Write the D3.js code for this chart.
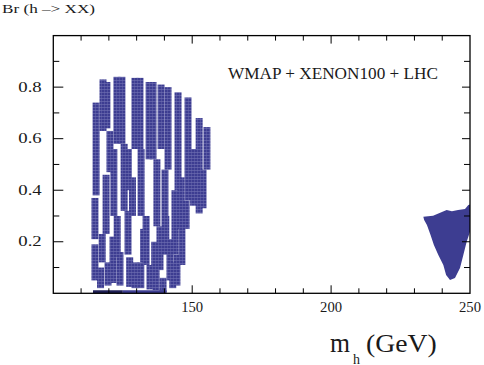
<!DOCTYPE html>
<html>
<head>
<meta charset="utf-8">
<script src="https://cdn.jsdelivr.net/npm/d3@7"></script>
<style>
  body { margin: 0; background: #fff; }
  text { font-family: "Liberation Serif", "Times New Roman", serif; font-weight: normal; fill: #1a1a1a; }
</style>
</head>
<body>
<script>
// axis values
var xTicks = [110, 120, 130, 140, 150, 160, 170, 180, 190, 200, 210, 220, 230, 240];
var xLabels = [150, 200, 250];
var yTicks = [0.1, 0.2, 0.3, 0.4, 0.5, 0.6, 0.7, 0.8, 0.9];
var yLabels = [0.2, 0.4, 0.6, 0.8];

// scan points below 160 GeV, read as vertical strips: [mh, Br top, Br bottom]
var strips = [
  [115.4, 0.74, 0.38], [115.0, 0.37, 0.21], [115.0, 0.19, 0.05],
  [117.9, 0.83, 0.63], [119.3, 0.82, 0.64], [120.4, 0.63, 0.47],
  [119.0, 0.46, 0.23], [117.6, 0.23, 0.12], [119.7, 0.12, 0.03],
  [117.0, 0.10, 0.02], [121.5, 0.22, 0.04], [121.8, 0.56, 0.30],
  [122.9, 0.84, 0.58], [124.7, 0.84, 0.58], [125.5, 0.58, 0.32],
  [123.0, 0.30, 0.14], [126.9, 0.32, 0.15], [124.0, 0.16, 0.03],
  [127.5, 0.14, 0.025], [127.0, 0.56, 0.40], [128.5, 0.45, 0.30],
  [129.4, 0.836, 0.56], [131.2, 0.836, 0.56], [131.6, 0.56, 0.30],
  [133.4, 0.30, 0.11], [129.4, 0.12, 0.02], [131.5, 0.12, 0.02],
  [132.5, 0.25, 0.12],
  [134.5, 0.82, 0.52], [135.9, 0.82, 0.52], [137.3, 0.52, 0.26],
  [138.4, 0.26, 0.09], [134.8, 0.11, 0.015], [136.5, 0.20, 0.04],
  [137.0, 0.09, 0.012],
  [138.8, 0.81, 0.56], [141.3, 0.80, 0.48], [140.2, 0.48, 0.21],
  [142.0, 0.21, 0.05], [139.5, 0.06, 0.005], [140.5, 0.30, 0.15],
  [144.9, 0.78, 0.40], [143.8, 0.40, 0.15], [144.5, 0.15, 0.03],
  [143.0, 0.12, 0.02], [146.0, 0.45, 0.25],
  [148.5, 0.76, 0.36], [147.8, 0.36, 0.25], [146.3, 0.26, 0.11],
  [150.5, 0.56, 0.34],
  [152.5, 0.68, 0.31], [155.3, 0.645, 0.48], [153.9, 0.48, 0.33]
];

// points lying on Br ~ 0: [mh start, mh end]
var floorDark = [114.3, 125.0];
var floorBlue = [125.0, 140.8];

// outline of the dense region near 240-250 GeV: [mh, Br]
var blob = [
  [233.2, 0.297], [236.7, 0.301], [241.6, 0.323], [243.5, 0.318],
  [245.7, 0.323], [248.2, 0.327], [249.4, 0.343], [250.0, 0.345],
  [250.0, 0.239], [248.8, 0.200], [247.6, 0.149], [246.4, 0.098],
  [244.6, 0.059], [242.8, 0.052], [241.4, 0.071], [240.4, 0.110],
  [238.6, 0.149], [237.0, 0.187], [235.8, 0.226], [234.5, 0.265],
  [233.5, 0.284]
];

var width = 484, height = 365;
var blue = "#3d3d91";

var svg = d3.select("body").append("svg")
    .attr("width", width)
    .attr("height", height);

var x = d3.scaleLinear().domain([100, 250]).range([53.3, 470]);
var y = d3.scaleLinear().domain([0, 1]).range([293.3, 35.6]);

//dotted fill for the strips
var pat = svg.append("defs").append("pattern")
    .attr("id", "dots")
    .attr("patternUnits", "userSpaceOnUse")
    .attr("width", 3)
    .attr("height", 3);
pat.append("rect").attr("width", 3).attr("height", 3).attr("fill", "#7272b4");
pat.append("rect").attr("width", 2.6).attr("height", 2.4).attr("fill", blue);

svg.selectAll(".strip")
    .data(strips)
    .enter()
    .append("rect")
    .attr("class", "strip")
    .attr("x", function(d){ return x(d[0]) - 3.5; })
    .attr("y", function(d){ return y(d[1]); })
    .attr("width", 7)
    .attr("height", function(d){ return y(d[2]) - y(d[1]); })
    .attr("fill", "url(#dots)");

svg.append("line")
    .attr("x1", x(floorBlue[0])).attr("x2", x(floorBlue[1]))
    .attr("y1", y(0.006)).attr("y2", y(0.006))
    .attr("stroke", blue).attr("stroke-width", 3);
svg.append("line")
    .attr("x1", x(floorDark[0])).attr("x2", x(floorDark[1]))
    .attr("y1", y(0.006)).attr("y2", y(0.006))
    .attr("stroke", "#1e1e55").attr("stroke-width", 3);

svg.append("path")
    .datum(blob)
    .attr("d", d3.line().x(function(d){ return x(d[0]); }).y(function(d){ return y(d[1]); }).curve(d3.curveLinearClosed))
    .attr("fill", blue);

//frame
svg.append("rect")
    .attr("x", x(100)).attr("y", y(1))
    .attr("width", x(250) - x(100)).attr("height", y(0) - y(1))
    .attr("fill", "none").attr("stroke", "#000").attr("stroke-width", 1.3);

//ticks on all four sides, pointing inward
xTicks.forEach(function(t){
    var len = (t % 50 === 0) ? 8 : 5;
    svg.append("line").attr("x1", x(t)).attr("x2", x(t))
        .attr("y1", y(0)).attr("y2", y(0) - len).attr("stroke", "#000");
    svg.append("line").attr("x1", x(t)).attr("x2", x(t))
        .attr("y1", y(1)).attr("y2", y(1) + len).attr("stroke", "#000");
});
yTicks.forEach(function(t){
    var major = yLabels.indexOf(t) >= 0;
    svg.append("line").attr("x1", x(100)).attr("x2", x(100) + (major ? 10 : 6))
        .attr("y1", y(t)).attr("y2", y(t)).attr("stroke", "#000");
    svg.append("line").attr("x1", x(250)).attr("x2", x(250) - (major ? 8 : 6))
        .attr("y1", y(t)).attr("y2", y(t)).attr("stroke", "#000");
});

svg.selectAll(".xlab")
    .data(xLabels)
    .enter()
    .append("text")
    .attr("x", function(d){ return x(d) - 11; })
    .attr("y", 311.7)
    .attr("font-size", 14)
    .attr("textLength", 22)
    .attr("lengthAdjust", "spacingAndGlyphs")
    .text(function(d){ return d; });

svg.selectAll(".ylab")
    .data(yLabels)
    .enter()
    .append("text")
    .attr("x", 18.3)
    .attr("y", function(d){ return y(d) + 4.6; })
    .attr("font-size", 14)
    .attr("textLength", 23.4)
    .attr("lengthAdjust", "spacingAndGlyphs")
    .text(function(d){ return d3.format(".1f")(d); });

svg.append("text")
    .attr("x", 2).attr("y", 13.3)
    .attr("font-size", 13.5)
    .attr("textLength", 93)
    .attr("lengthAdjust", "spacingAndGlyphs")
    .text("Br (h \u2013> XX)");

svg.append("text")
    .attr("x", 228).attr("y", 79)
    .attr("font-size", 16)
    .attr("textLength", 210)
    .attr("lengthAdjust", "spacingAndGlyphs")
    .text("WMAP + XENON100 + LHC");

svg.append("text")
    .attr("x", 330).attr("y", 351.7)
    .attr("font-size", 28)
    .attr("textLength", 20)
    .attr("lengthAdjust", "spacingAndGlyphs")
    .text("m");
svg.append("text")
    .attr("x", 353).attr("y", 363.5)
    .attr("font-size", 14)
    .text("h");
svg.append("text")
    .attr("x", 366).attr("y", 351.7)
    .attr("font-size", 25)
    .attr("textLength", 70.7)
    .attr("lengthAdjust", "spacingAndGlyphs")
    .text("(GeV)");
</script>
</body>
</html>
